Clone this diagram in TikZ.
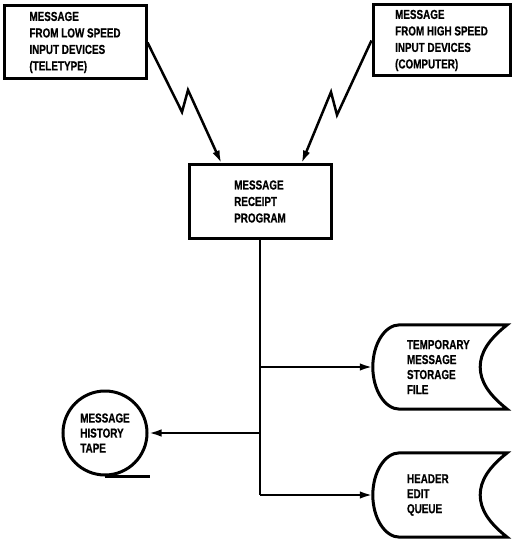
\documentclass[tikz,border=0pt]{standalone}
\usepackage{fontspec}
\newfontfamily\lbl{Liberation Sans Bold}[FakeStretch=0.76, FakeBold=0.6]
\usetikzlibrary{arrows.meta,calc}
\tikzset{
  box/.style={draw, line width=3pt, rectangle, minimum width=142pt, minimum height=73pt,
    inner sep=0pt, align=left, font=\lbl\fontsize{13}{16.5}\selectfont},
  store/.style={rectangle, minimum width=134pt, minimum height=84pt, inner ysep=0pt,
    inner xsep=34pt, text width=66pt, align=left, font=\lbl\fontsize{13}{15}\selectfont},
  tapenode/.style={draw, circle, line width=3pt, minimum size=84pt, inner sep=0pt,
    align=left, font=\lbl\fontsize{13}{15}\selectfont},
  conn/.style={line width=2.5pt, -{Latex[length=13pt,width=7.5pt]}},
  trunk/.style={line width=2.5pt},
  shapeline/.style={line width=3pt}
}
\newcommand{\storageoutline}[1]{%
  \draw[shapeline] ($(#1.north west)+(27,0)$) -- (#1.north east)
    .. controls ($(#1.north east)+(-19,15)$) and ($(#1.east)+(-27,-14)$) .. ($(#1.east)+(-27,0)$)
    .. controls ($(#1.east)+(-27,14)$) and ($(#1.south east)+(-19,-15)$) .. (#1.south east)
    -- ($(#1.south west)+(27,0)$)
    .. controls ($(#1.south west)+(12,0)$) and ($(#1.west)+(0,23)$) .. (#1.west)
    .. controls ($(#1.west)+(0,-23)$) and ($(#1.north west)+(12,0)$) .. ($(#1.north west)+(27,0)$) -- cycle;}
\begin{document}
\begin{tikzpicture}[x=1pt,y=-1pt]
\useasboundingbox (0,0) rectangle (512,540);
\node[box] (low) at (75,42.5) {MESSAGE\\FROM LOW SPEED\\INPUT DEVICES\\(TELETYPE)};
\node[box, minimum width=137pt, minimum height=71pt] (high) at (441.5,40.5) {MESSAGE\\FROM HIGH SPEED\\INPUT DEVICES\\(COMPUTER)};
\node[box] (receipt) at (260,201.5) {MESSAGE\\RECEIPT\\PROGRAM};
\node[store] (temp) at (440,367) {TEMPORARY\\MESSAGE\\STORAGE\\FILE};
\node[store] (header) at (440,495) {HEADER\\EDIT\\QUEUE};
\node[tapenode] (tape) at (105,433) {MESSAGE\\HISTORY\\TAPE};
\storageoutline{temp}
\storageoutline{header}
\draw[shapeline] (tape.south) -- ++(45,0);
% zigzag links
\draw[conn] (low.east) -- (182,112) -- (188,90) -- ($(receipt.north west)+(34,0)$);
\draw[conn] (high.west) -- (337,115) -- (331,92) -- ($(receipt.north east)+(-31,0)$);
% trunk and branches
\draw[trunk] (receipt.south) -- (receipt.south |- header.west);
\draw[conn] (receipt.south |- header.west) -- (header.west);
\draw[conn] (receipt.south |- temp.west) -- (temp.west);
\draw[conn] (receipt.south |- tape.east) -- (tape.east);
\end{tikzpicture}
\end{document}
